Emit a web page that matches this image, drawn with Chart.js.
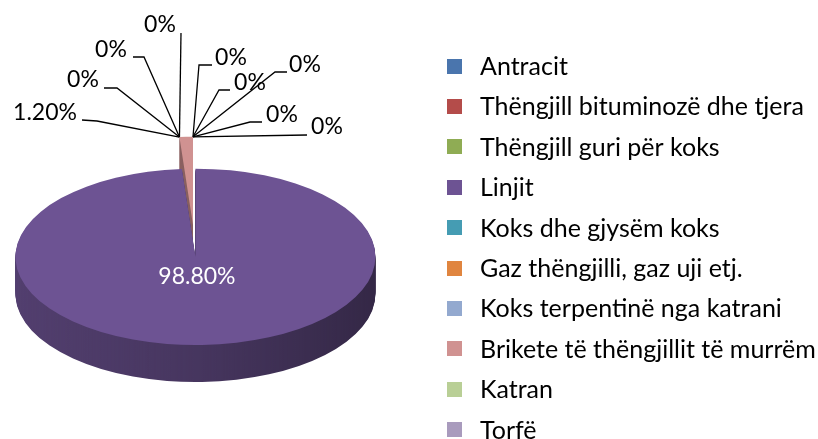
<!DOCTYPE html>
<html><head><meta charset="utf-8">
<script src="https://cdn.jsdelivr.net/npm/chart.js@4.4.0/dist/chart.umd.min.js"></script>
<style>html,body{margin:0;padding:0;background:#fff;}canvas{display:block}</style>
</head><body>
<canvas id="c" width="818" height="439"></canvas>
<script>
// ---- data ----
const categories = ["Antracit","Thëngjill bituminozë dhe tjera","Thëngjill guri për koks","Linjit","Koks dhe gjysëm koks","Gaz thëngjilli, gaz uji etj.","Koks terpentinë nga katrani","Brikete të thëngjillit të murrëm","Katran","Torfë"];
const shares = [0, 0, 0, 98.8, 0, 0, 0, 1.2, 0, 0];
const valueLabels = ["0%","0%","0%","98.80%","0%","0%","0%","1.20%","0%","0%"];

// ---- styles / layout ----
const colors = ['#4a75ad','#b44c4a','#8fac54','#6d5393','#459cb3','#e0853f','#93a9cf','#d09291','#b9cf96','#a99bbd'];
const SQUASH = 0.49;      // vertical tilt of the pie
const DEPTH = 37;         // thickness of the pie side (px)
const EXPLODE = 65;       // explosion distance of the largest slice (unsquashed px)
const FONT = 'Lato, "Open Sans", sans-serif';
// label text centre and leader-line elbow points (label -> pie rim)
const labelLayout = [
  {t:[231,58], p:[[212,65],[199,65]]},
  {t:[250,83], p:[[230,90],[219,90]]},
  {t:[305,65], p:[[287,72],[275,72]]},
  null,
  {t:[160,25], p:[[181,33]]},
  {t:[111,50], p:[[133,57],[144,57]]},
  {t:[83,80],  p:[[104,88],[117,88]]},
  {t:[45,113], p:[[82,120],[97,121]]},
  {t:[282,115],p:[[262,122],[250,122]]},
  {t:[327,127],p:[[307,135]]}
];
const legendLayout = {boxX:447, box:15, textX:480, top:66, gap:40.4};

const pie3d = {
  id: 'pie3d',
  beforeDatasetsDraw(chart) {
    const ctx = chart.ctx;
    const arcs = chart.getDatasetMeta(0).data;
    const cx = arcs[0].x, cy = arcs[0].y, R = arcs[0].outerRadius;
    const maxV = Math.max(...shares);
    const explodeOf = (el, i) => {
      if (shares[i] !== maxV) return {x:0, y:0};
      const mid = (el.startAngle + el.endAngle) / 2;
      return {x: Math.cos(mid) * EXPLODE, y: Math.sin(mid) * EXPLODE};
    };
    const items = arcs.map((el, i) => ({el, i, e: explodeOf(el, i)}))
      .filter(o => shares[o.i] > 0)
      .sort((a, b) => a.e.y - b.e.y);
    const face = (o, dy) => {
      ctx.save();
      ctx.translate(0, dy);
      ctx.translate(cx, cy); ctx.scale(1, SQUASH); ctx.translate(-cx, -cy);
      ctx.translate(o.e.x, o.e.y);
      o.el.draw(ctx);
      ctx.restore();
    };
    // sides
    ctx.save();
    ctx.filter = 'brightness(0.76)';
    for (const o of items) for (let d = DEPTH; d >= 1; d--) face(o, d);
    ctx.filter = 'none';
    ctx.globalCompositeOperation = 'source-atop';
    const g = ctx.createLinearGradient(cx - R, 0, cx + R, 0);
    g.addColorStop(0, 'rgba(0,0,0,0)');
    g.addColorStop(0.5, 'rgba(0,0,0,0.14)');
    g.addColorStop(1, 'rgba(0,0,0,0.36)');
    ctx.fillStyle = g;
    ctx.fillRect(0, 0, chart.width, chart.height);
    ctx.restore();
    // tops
    for (const o of items) face(o, 0);

    // labels
    ctx.save();
    ctx.font = '23px ' + FONT;
    ctx.textAlign = 'center';
    ctx.textBaseline = 'middle';
    ctx.strokeStyle = '#000';
    ctx.lineWidth = 1.3;
    arcs.forEach((el, i) => {
      const L = labelLayout[i];
      if (!L) {
        const mid = (el.startAngle + el.endAngle) / 2;
        const rr = 0.58 * el.outerRadius;
        const lx = cx + Math.cos(mid) * rr;
        const ly = cy + Math.sin(mid) * rr * SQUASH;
        ctx.fillStyle = '#fff';
        ctx.fillText(valueLabels[i], lx, ly);
        return;
      }
      const a = el.startAngle;
      const rx = cx + Math.cos(a) * el.outerRadius;
      const ry = cy + Math.sin(a) * el.outerRadius * SQUASH;
      ctx.beginPath();
      ctx.moveTo(L.p[0][0], L.p[0][1]);
      for (let j = 1; j < L.p.length; j++) ctx.lineTo(L.p[j][0], L.p[j][1]);
      ctx.lineTo(rx, ry);
      ctx.stroke();
      ctx.fillStyle = '#000';
      ctx.fillText(valueLabels[i], L.t[0], L.t[1]);
    });
    ctx.restore();
    return false;
  },
  afterDraw(chart) {
    const ctx = chart.ctx;
    const cols = chart.data.datasets[0].backgroundColor;
    ctx.save();
    ctx.font = '25px ' + FONT;
    ctx.textBaseline = 'middle';
    ctx.textAlign = 'left';
    chart.data.labels.forEach((lab, i) => {
      const y = legendLayout.top + i * legendLayout.gap;
      ctx.fillStyle = cols[i];
      ctx.fillRect(legendLayout.boxX, Math.round(y - legendLayout.box / 2), legendLayout.box, legendLayout.box);
      ctx.fillStyle = '#000';
      ctx.fillText(lab, legendLayout.textX, y + 1);
    });
    ctx.restore();
  }
};

new Chart(document.getElementById('c'), {
  type: 'pie',
  data: {
    labels: categories,
    datasets: [{ data: shares, backgroundColor: colors, borderWidth: 0 }]
  },
  options: {
    responsive: false,
    animation: false,
    layout: { padding: { left: 13, top: 45, right: 445, bottom: 34 } },
    plugins: { legend: { display: false }, tooltip: { enabled: false } }
  },
  plugins: [pie3d]
});
</script>
</body></html>
